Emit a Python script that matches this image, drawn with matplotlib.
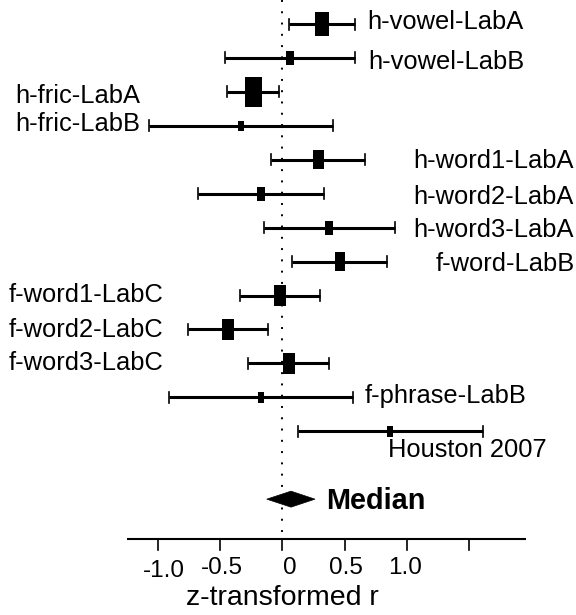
import matplotlib
matplotlib.use("Agg")
import matplotlib.pyplot as plt
from matplotlib.patches import Rectangle, Polygon
from matplotlib.transforms import offset_copy
import numpy as np

plt.rcParams['font.family'] = ['Liberation Sans', 'DejaVu Sans']

# ---------------- data ----------------
studies = ["h-vowel-LabA", "h-vowel-LabB", "h-fric-LabA", "h-fric-LabB",
           "h-word1-LabA", "h-word2-LabA", "h-word3-LabA", "f-word-LabB",
           "f-word1-LabC", "f-word2-LabC", "f-word3-LabC", "f-phrase-LabB",
           "Houston 2007"]
estimates = [0.32, 0.062, -0.231, -0.330, 0.289, -0.171, 0.375, 0.464,
             -0.018, -0.436, 0.054, -0.171, 0.866]
ci_low = [0.054, -0.46, -0.447, -1.071, -0.088, -0.678, -0.147, 0.080,
          -0.343, -0.756, -0.273, -0.911, 0.124]
ci_high = [0.586, 0.584, -0.024, 0.409, 0.667, 0.335, 0.906, 0.839,
           0.303, -0.115, 0.375, 0.568, 1.611]
weights = [14, 7.5, 17, 5.7, 10.5, 8, 8, 10.5, 12, 12, 12, 6, 6]

median_label = "Median"
median_est = 0.07
median_low = -0.125
median_high = 0.263

tick_values = [-1.0, -0.5, 0.0, 0.5, 1.0, 1.5]
tick_labels = ["-1.0", "-0.5", "0", "0.5", "1.0", ""]
x_label = "z-transformed r"

# ---------------- layout ----------------
W, H, DPI = 576, 615, 100
fig = plt.figure(figsize=(W / DPI, H / DPI), dpi=DPI)
ax = fig.add_axes([0, 0, 1, 1])
ax.axis('off')

x0_px, px_per_unit = 282.3, 124.4
row0_px, px_per_row = 24.0, 33.94
ax.set_xlim(-x0_px / px_per_unit, (W - x0_px) / px_per_unit)
ax.set_ylim((H - row0_px) / px_per_row, -row0_px / px_per_row)

PXX = 1.0 / px_per_unit   # data x per pixel
PXY = 1.0 / px_per_row    # rows per pixel

n = len(studies)
rows = np.arange(n)
median_row = n + 1
axis_row = (539.3 - row0_px) / px_per_row

# dotted zero line
ax.plot([0, 0], [-row0_px / px_per_row, axis_row - 4 * PXY], color='black',
        lw=1.4, linestyle=(0, (1, 4.8)), zorder=1)

# error bars and boxes
cap_half = 5.5 * PXY
for r, est, lo, hi, w in zip(rows, estimates, ci_low, ci_high, weights):
    ax.plot([lo, hi], [r, r], color='black', lw=2.2, solid_capstyle='butt', zorder=2)
    ax.plot([lo, lo], [r - cap_half, r + cap_half], color='black', lw=1.2, zorder=2)
    ax.plot([hi, hi], [r - cap_half, r + cap_half], color='black', lw=1.2, zorder=2)
    bw = w * PXX
    bh = 1.78 * w * PXY
    ax.add_patch(Rectangle((est - bw / 2, r - bh / 2), bw, bh,
                           facecolor='black', edgecolor='none', zorder=3))

# median diamond
dh = 8 * PXY
ax.add_patch(Polygon([[median_low, median_row], [median_est, median_row - dh],
                      [median_high, median_row], [median_est, median_row + dh]],
                     closed=True, facecolor='black', edgecolor='black', lw=0.5, zorder=3))

# study labels: (x pixel, alignment, baseline offset px below row)
label_layout = [
    (367.5, 'left', 5.3), (368.5, 'left', 10.6), (15.0, 'left', 11.0),
    (15.0, 'left', 5.6), (573.5, 'right', 8.0), (573.5, 'right', 10.5),
    (573.5, 'right', 9.4), (574.5, 'right', 9.5), (9.0, 'left', 6.7),
    (9.0, 'left', 7.7), (9.0, 'left', 6.7), (364.5, 'left', 6.0),
    (388.0, 'left', 25.4),
]
for r, name, (xp, ha, dy) in zip(rows, studies, label_layout):
    tr = offset_copy(ax.transData, fig=fig, x=0, y=-dy, units='dots')
    ax.text((xp - x0_px) / px_per_unit, r, name, transform=tr, ha=ha,
            va='baseline', fontsize=18.4, color='black')

# median label
tr = offset_copy(ax.transData, fig=fig, x=0, y=-10, units='dots')
ax.text((326.5 - x0_px) / px_per_unit, median_row, median_label, transform=tr,
        ha='left', va='baseline', fontsize=20.8, fontweight='bold', color='black')

# x axis
ax.plot([(127 - x0_px) / px_per_unit, (525.7 - x0_px) / px_per_unit],
        [axis_row, axis_row], color='black', lw=1.5, solid_capstyle='butt', zorder=2)
tick_len = 11 * PXY
label_dx = {"-1.0": 6, "-0.5": 2, "0": 7.5, "0.5": 1, "1.0": -1.5}
label_dy = {"-1.0": 38, "-0.5": 35, "0": 35, "0.5": 35, "1.0": 35}
for tv, tl in zip(tick_values, tick_labels):
    ax.plot([tv, tv], [axis_row, axis_row + tick_len], color='black', lw=1.2, zorder=2)
    if tl:
        tr = offset_copy(ax.transData, fig=fig, x=label_dx[tl], y=-label_dy[tl], units='dots')
        ax.text(tv, axis_row, tl, transform=tr, ha='center', va='baseline',
                fontsize=17.5, color='black')

tr = offset_copy(ax.transData, fig=fig, x=0.5, y=-66, units='dots')
ax.text(0, axis_row, x_label, transform=tr, ha='center', va='baseline',
        fontsize=20.5, color='black')

fig.savefig("out.png", dpi=DPI, facecolor='white')
